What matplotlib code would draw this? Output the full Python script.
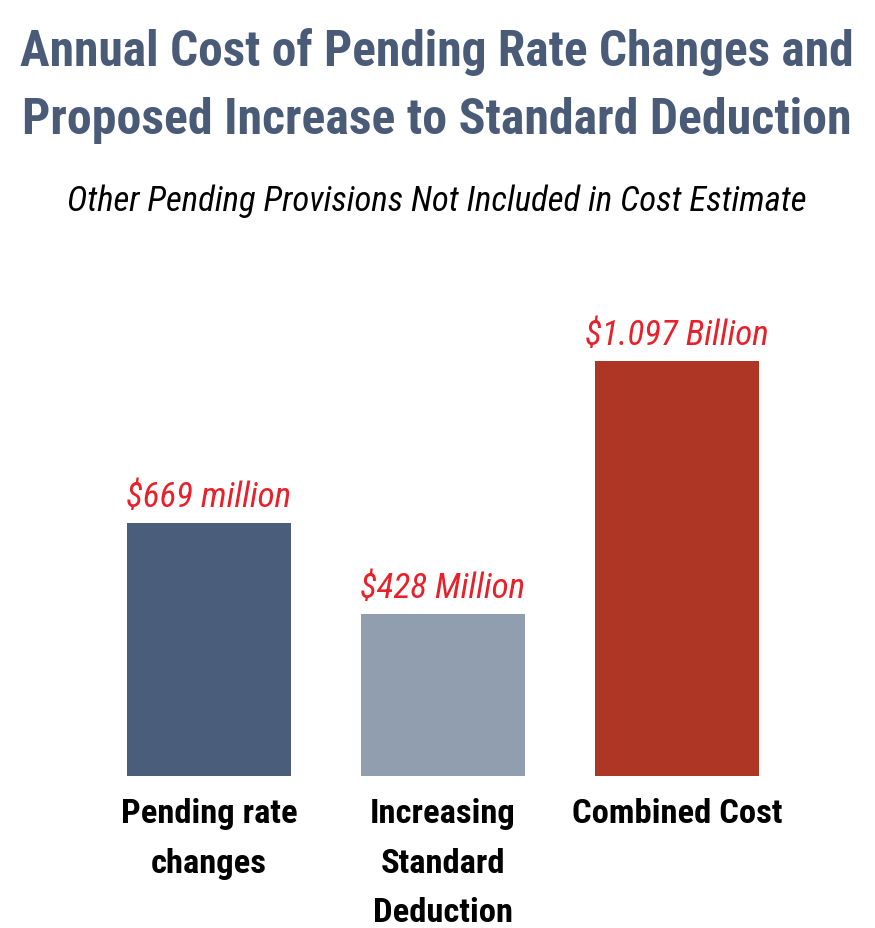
import matplotlib
matplotlib.use("Agg")
import matplotlib.pyplot as plt
from matplotlib import font_manager as fm

categories = ["Pending rate\nchanges", "Increasing\nStandard\nDeduction", "Combined Cost"]
values = [669, 428, 1097]
value_labels = ["$669 million", "$428 Million", "$1.097 Billion"]
bar_colors = ["#4a5e7c", "#909eb0", "#ae3624"]

names = {f.name for f in fm.fontManager.ttflist}
FAM, STR = "DejaVu Sans", "condensed"
for cand in ["Liberation Sans Narrow", "Roboto Condensed", "Open Sans Condensed", "Noto Sans Condensed"]:
    if cand in names:
        FAM, STR = cand, "normal"
        break

W, H = 875, 929
fig = plt.figure(figsize=(W / 100, H / 100), dpi=100)
ax = fig.add_axes([92 / W, (H - 777) / H, 702 / W, 454 / H])

x = range(len(values))
ax.bar(x, values, width=0.70, color=bar_colors)
ax.set_xlim(-0.5, 2.5)
ax.set_ylim(0, 1200)
for s in ax.spines.values():
    s.set_visible(False)
ax.set_yticks([])
ax.set_xticks(list(x))
ticklabels = ax.set_xticklabels(categories, fontfamily=FAM, fontstretch=STR, fontweight="bold",
                                fontsize=27, color="black", linespacing=1.71, va="top")
ax.tick_params(axis="x", length=0, pad=15)

vtexts = []
for xi, v, lab in zip(x, values, value_labels):
    vtexts.append(ax.text(xi, v + 70, lab, ha="center", va="center", color="#e8202a",
                          fontfamily=FAM, fontstretch=STR, fontstyle="italic", fontsize=26))

title_color = "#4a5b78"
t1 = fig.text(437 / W, 1 - 52 / H, "Annual Cost of Pending Rate Changes and",
              ha="center", va="center", color=title_color, fontfamily=FAM,
              fontstretch=STR, fontweight="bold", fontsize=44)
t2 = fig.text(437 / W, 1 - 120 / H, "Proposed Increase to Standard Deduction",
              ha="center", va="center", color=title_color, fontfamily=FAM,
              fontstretch=STR, fontweight="bold", fontsize=44)
st = fig.text(437 / W, 1 - 201 / H, "Other Pending Provisions Not Included in Cost Estimate",
              ha="center", va="center", color="black", fontfamily=FAM,
              fontstretch=STR, fontstyle="italic", fontsize=27)

fig.canvas.draw()
r = fig.canvas.get_renderer()


def fit(texts, target):
    w = max(t.get_window_extent(r).width for t in texts)
    for t in texts:
        t.set_fontsize(t.get_fontsize() * target / w)


fit([t1], 835)
fit([t2], 831)
fit([st], 739)
fit(vtexts, 184)
fit([ticklabels[2]], 210)
for tl in ticklabels[:2]:
    tl.set_fontsize(ticklabels[2].get_fontsize())

fig.savefig("out.png", dpi=100)
